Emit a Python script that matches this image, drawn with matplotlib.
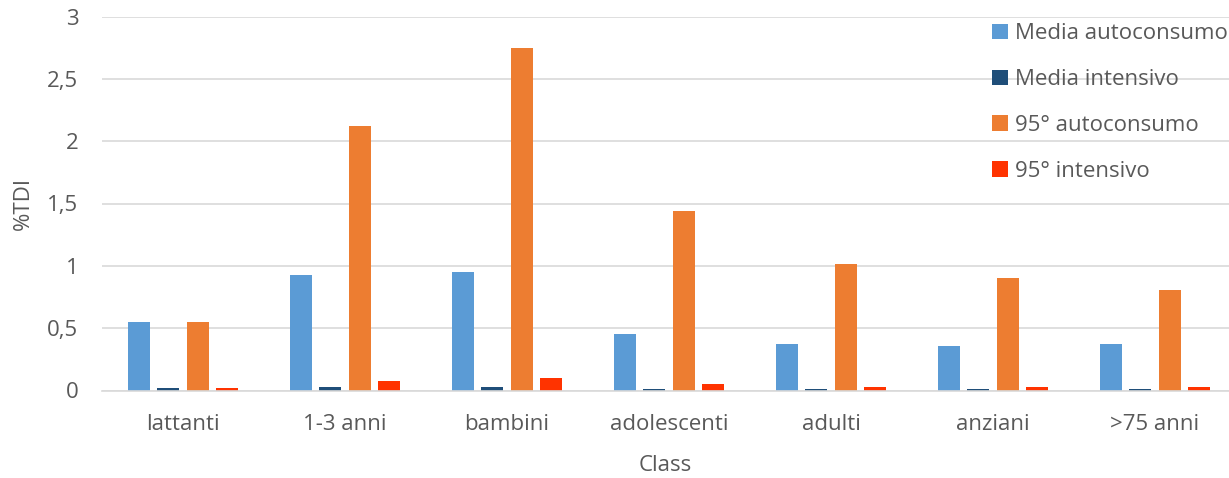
import numpy as np
import matplotlib.pyplot as plt

plt.rcParams['font.family'] = ['Open Sans', 'DejaVu Sans']

classes = ["lattanti", "1-3 anni", "bambini", "adolescenti", "adulti", "anziani", ">75 anni"]
series_names = ["Media autoconsumo", "Media intensivo", "95° autoconsumo", "95° intensivo"]
media_auto = [0.55, 0.93, 0.95, 0.455, 0.37, 0.355, 0.37]
media_int = [0.02, 0.03, 0.03, 0.012, 0.012, 0.012, 0.012]
p95_auto = [0.55, 2.12, 2.745, 1.44, 1.015, 0.90, 0.805]
p95_int = [0.02, 0.08, 0.097, 0.054, 0.03, 0.03, 0.03]
colors = ["#5b9bd5", "#1f4e79", "#ed7d31", "#ff3300"]

grey = "#595959"
fs = 16
fig = plt.figure(figsize=(12.29, 4.78), dpi=100)
ax = fig.add_axes([102 / 1229, (478 - 390.5) / 478, 1127 / 1229, 374 / 478])

x = np.arange(len(classes))
step, width = 0.182, 0.136
for i, (vals, name, c) in enumerate(zip([media_auto, media_int, p95_auto, p95_int], series_names, colors)):
    ax.bar(x + (i - 1.5) * step, vals, width, color=c, label=name, zorder=2)

ax.set_xlim(-0.5, -0.5 + 1127 / 162)
ax.set_ylim(0, 3)
ax.set_yticks(np.arange(0, 3.01, 0.5))
ax.set_yticklabels(["0", "0,5", "1", "1,5", "2", "2,5", "3"])
ax.set_xticks(x)
ax.set_xticklabels(classes)
ax.tick_params(axis="both", length=0, labelsize=fs, colors=grey)
ax.tick_params(axis="y", pad=17)
ax.tick_params(axis="x", pad=17)
ax.grid(axis="y", color="#d9d9d9", linewidth=1.2, zorder=0)
for s in ["top", "right", "left"]:
    ax.spines[s].set_visible(False)
ax.spines["bottom"].set_color("#d9d9d9")
ax.spines["bottom"].set_linewidth(1.2)

ax.set_xlabel("Class", fontsize=fs, color=grey, labelpad=14)
ax.set_ylabel("%TDI", fontsize=fs, color=grey, labelpad=10)

leg = ax.legend(loc="upper left", bbox_to_anchor=(0.79, 0.982), frameon=False,
                fontsize=fs, handlelength=0.7, handleheight=0.7, handletextpad=0.3,
                labelspacing=1.12, borderaxespad=0, borderpad=0)
for t in leg.get_texts():
    t.set_color(grey)

fig.savefig("out.png", dpi=100)
